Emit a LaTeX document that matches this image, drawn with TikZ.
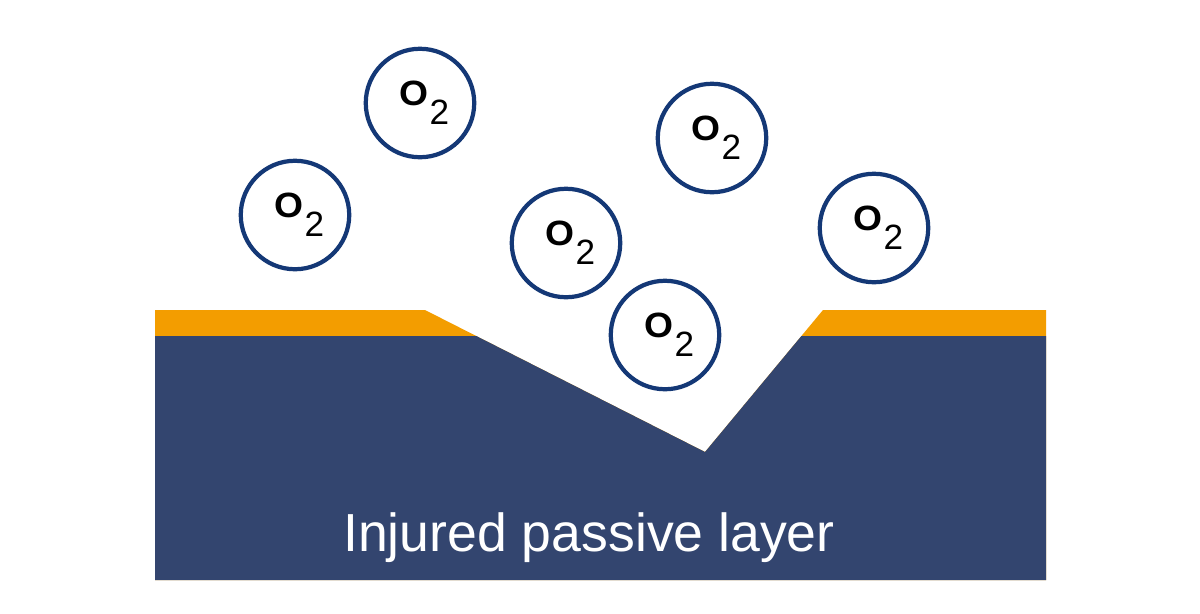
\documentclass[tikz,border=0pt]{standalone}
\usepackage{fontspec}
\setmainfont{Liberation Sans}
\definecolor{basecol}{RGB}{51,69,111}
\definecolor{filmcol}{RGB}{243,157,0}
\definecolor{ringcol}{RGB}{20,56,118}
\tikzset{
  oxy/.style={circle, draw=ringcol, line width=2.4pt, fill=white, inner sep=0pt,
    minimum size=2.17cm, font=\fontsize{20}{21}\selectfont},
}
\newcommand{\oxtext}{\hspace*{5pt}\scalebox{1.06}[1]{\textbf{O}}\kern0.5pt\raisebox{-11pt}{2}}
\begin{document}
\begin{tikzpicture}[x=0.02cm,y=-0.02cm]
\useasboundingbox[fill=white] (0,0) rectangle (1200,613);
% passive film (orange)
\fill[filmcol] (155,310) -- (425,310) -- (705,452) -- (823,310) -- (1046,310)
  -- (1046,580) -- (155,580) -- cycle;
% base metal (dark blue)
\fill[basecol] (155,336) -- (476.3,336) -- (705,452) -- (801.4,336) -- (1046,336)
  -- (1046,580) -- (155,580) -- cycle;
\node[text=white, font=\fontsize{30.5}{32}\selectfont] (lbl) at (589,538) {Injured passive layer};
% oxygen molecules
\node[oxy] (o1) at (420,103) {\oxtext};
\node[oxy] (o2) at (295,215) {\oxtext};
\node[oxy] (o3) at (712,138) {\oxtext};
\node[oxy] (o4) at (566,243) {\oxtext};
\node[oxy] (o5) at (874,228) {\oxtext};
\node[oxy] (o6) at (665,335) {\oxtext};
\end{tikzpicture}
\end{document}
